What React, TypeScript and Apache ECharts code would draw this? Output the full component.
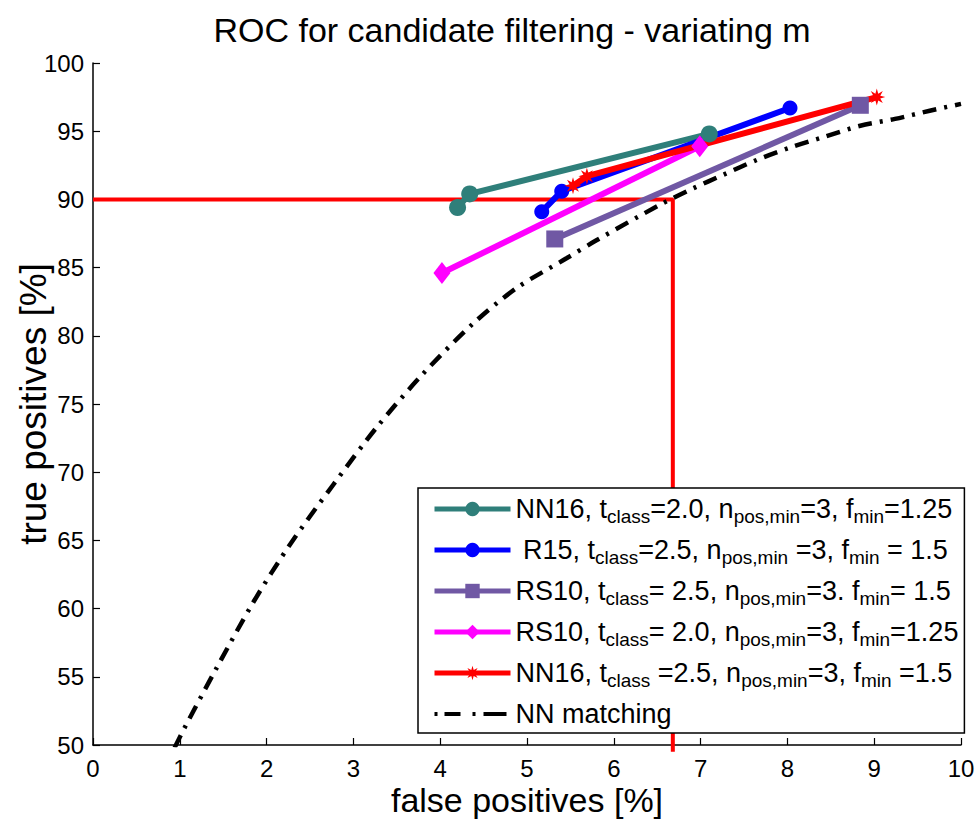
import React, { useEffect, useRef } from "react";
import * as echarts from "echarts";

// ---- data ----
const tealFP = [4.2, 4.34, 7.1];
const tealTP = [89.4, 90.4, 94.8];
const blueFP = [5.17, 5.4, 8.03];
const blueTP = [89.1, 90.6, 96.7];
const purpleFP = [5.32, 8.84];
const purpleTP = [87.1, 96.9];
const magentaFP = [4.02, 6.99];
const magentaTP = [84.6, 93.9];
const redFP = [5.53, 5.69, 9.03];
const redTP = [91.0, 91.7, 97.5];
const nnFP = [0.94, 1.05, 1.42, 1.85, 2.27, 2.77, 3.27, 3.8, 4.38, 4.88, 5.46, 5.8, 6.53, 6.91, 7.26, 7.65, 8.03, 8.43, 8.84, 9.24, 9.64, 10.0];
const nnTP = [49.8, 51.2, 55.6, 60.5, 64.7, 69.1, 73.3, 77.2, 80.9, 83.5, 85.7, 87.0, 89.6, 90.8, 91.8, 92.9, 93.8, 94.6, 95.4, 95.9, 96.5, 97.0];
const refFP = [0, 6.68, 6.68];
const refTP = [90, 90, 49.5];

const legendLabels: Record<string, string> = {
  s1: "NN16, t{s|class}=2.0, n{s|pos,min}=3, f{s|min}=1.25",
  s2: " R15, t{s|class}=2.5, n{s|pos,min} =3, f{s|min} = 1.5",
  s3: "RS10, t{s|class}= 2.5, n{s|pos,min}=3. f{s|min}= 1.5",
  s4: "RS10, t{s|class}= 2.0, n{s|pos,min}=3, f{s|min}=1.25",
  s5: "NN16, t{s|class} =2.5, n{s|pos,min}=3, f{s|min} =1.5",
  s6: "NN matching",
};

const pair = (xs: number[], ys: number[]) => xs.map((x, i) => [x, ys[i]]);

const starPath =
  "path://M10,5 L7.03,5.84 L8.54,8.54 L5.84,7.03 L5,10 L4.16,7.03 L1.46,8.54 L2.97,5.84 L0,5 L2.97,4.16 L1.46,1.46 L4.16,2.97 L5,0 L5.84,2.97 L8.54,1.46 L7.03,4.16 Z";
const dashDotIcon =
  "path://M0,0 L0.01,0 L0,0.01 Z M76,18 L75.99,18 L76,17.99 Z M0,7 H3 V11 H0 Z M10,7 H26 V11 H10 Z M38,7 H41 V11 H38 Z M49,7 H72 V11 H49 Z";

const FONT = "Liberation Sans, Arial, Helvetica, sans-serif";

export default function App() {
  const ref = useRef<HTMLDivElement>(null);
  useEffect(() => {
    if (!ref.current) return;
    const chart = echarts.init(ref.current, undefined, { renderer: "svg" });
    const lineSeries = (
      name: string,
      data: number[][],
      color: string,
      symbol: string,
      symbolSize: number | number[]
    ) => ({
      type: "line",
      name,
      data,
      symbol,
      symbolSize,
      showAllSymbol: true,
      lineStyle: { color, width: 6 },
      itemStyle: { color, borderWidth: 0 },
      z: 3,
    });
    chart.setOption({
      animation: false,
      backgroundColor: "#ffffff",
      textStyle: { fontFamily: FONT },
      title: {
        text: "ROC for candidate filtering - variating m",
        left: 512,
        top: 13,
        padding: 0,
        textAlign: "center",
        textStyle: { fontSize: 34, fontWeight: "normal", color: "#000", fontFamily: FONT },
      },
      grid: {
        left: 93,
        right: 14,
        top: 63,
        bottom: 83,
        containLabel: false,
        outerBoundsMode: "none",
      },
      xAxis: {
        type: "value",
        min: 0,
        max: 10,
        interval: 1,
        name: "false positives [%]",
        nameLocation: "middle",
        nameGap: 38,
        nameMoveOverlap: false,
        nameTextStyle: { fontSize: 34, color: "#000", fontFamily: FONT },
        axisLine: { show: true, onZero: false, lineStyle: { color: "#000", width: 1.5 } },
        axisTick: { show: true, inside: true, length: 7, lineStyle: { color: "#000", width: 1.2 } },
        axisLabel: { fontSize: 24, color: "#000", margin: 11, fontFamily: FONT },
        splitLine: { show: false },
      },
      yAxis: {
        type: "value",
        min: 50,
        max: 100,
        interval: 5,
        name: "true positives [%]",
        nameLocation: "middle",
        nameGap: 41,
        nameMoveOverlap: false,
        nameTextStyle: { fontSize: 37, color: "#000", fontFamily: FONT },
        axisLine: { show: true, onZero: false, lineStyle: { color: "#000", width: 1.5 } },
        axisTick: { show: true, inside: true, length: 7, lineStyle: { color: "#000", width: 1.2 } },
        axisLabel: { fontSize: 24, color: "#000", margin: 9, fontFamily: FONT },
        splitLine: { show: false },
      },
      legend: {
        data: [
          "s1",
          "s2",
          "s3",
          "s4",
          "s5",
          { name: "s6", icon: dashDotIcon, itemStyle: { color: "#000" } },
        ],
        orient: "vertical",
        left: 418,
        top: 488,
        width: 545,
        backgroundColor: "#fff",
        borderColor: "#000",
        borderWidth: 1.5,
        borderRadius: 0,
        padding: [4, 6, 2, 14],
        itemGap: 7,
        itemWidth: 76,
        itemHeight: 18,
        symbolKeepAspect: false,
        lineStyle: { width: 5 },
        formatter: (n: string) => legendLabels[n],
        textStyle: {
          fontSize: 27,
          color: "#000",
          fontFamily: FONT,
          lineHeight: 34,
          rich: {
            s: { fontSize: 19, lineHeight: 19, verticalAlign: "bottom", color: "#000", fontFamily: FONT },
          },
        },
      },
      series: [
        {
          type: "line",
          name: "ref",
          data: pair(refFP, refTP),
          symbol: "none",
          clip: false,
          lineStyle: { color: "#ff0000", width: 4 },
          itemStyle: { color: "#ff0000" },
          z: 2,
        },
        {
          ...lineSeries("s6", pair(nnFP, nnTP), "#000000", "none", 0),
          smooth: 0.3,
          lineStyle: { color: "#000", width: 4.5, type: [14, 8, 3, 8] },
          z: 2,
        },
        lineSeries("s1", pair(tealFP, tealTP), "#2f7f7a", "circle", 17),
        lineSeries("s2", pair(blueFP, blueTP), "#0000ff", "circle", 15),
        lineSeries("s3", pair(purpleFP, purpleTP), "#7058a4", "rect", 17),
        lineSeries("s4", pair(magentaFP, magentaTP), "#ff00ff", "diamond", [17, 22]),
        lineSeries("s5", pair(redFP, redTP), "#ff0000", starPath, 17),
      ],
    });
    return () => chart.dispose();
  }, []);
  return (
    <div
      ref={ref}
      style={{ position: "absolute", left: 0, top: 0, width: 975, height: 828 }}
    />
  );
}
